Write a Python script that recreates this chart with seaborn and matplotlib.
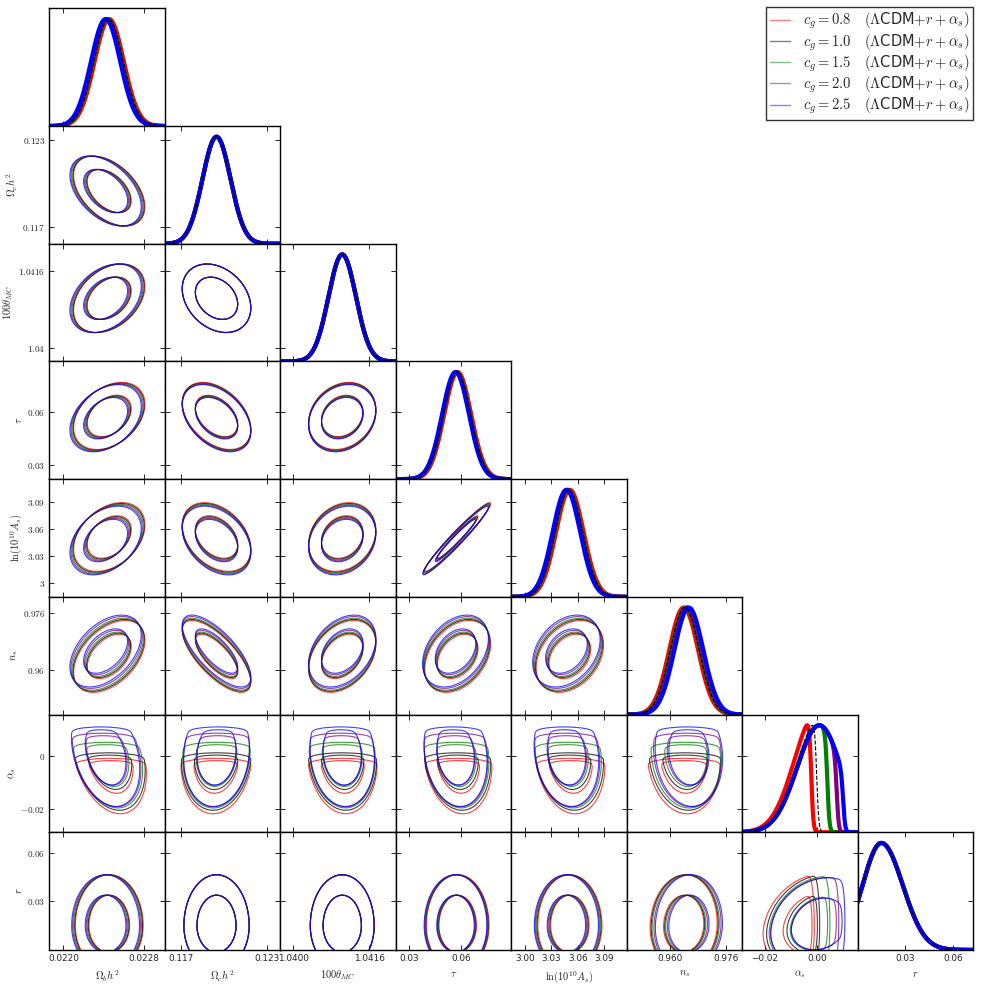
import numpy as np
import matplotlib
matplotlib.use("Agg")
import matplotlib.pyplot as plt
from matplotlib.lines import Line2D
import seaborn as sns

# parameter names / axis labels
params = ["omegabh2", "omegach2", "theta", "tau", "logA", "ns", "nrun", "r"]
labels = [r"$\Omega_b h^2$", r"$\Omega_c h^2$", r"$100\theta_{MC}$", r"$\tau$",
          r"$\ln(10^{10} A_s)$", r"$n_s$", r"$\alpha_s$", r"$r$"]

# axis ranges
lims = [(0.02186, 0.02301), (0.11588, 0.12396), (1.03972, 1.04216), (0.0220, 0.0890),
        (2.984, 3.1157), (0.94765, 0.98054), (-0.02863, 0.01565), (0.0, 0.0727)]

xticks = [[0.0220, 0.0228], [0.117, 0.123], [1.0400, 1.0416], [0.03, 0.06],
          [3.00, 3.03, 3.06, 3.09], [0.960, 0.976], [-0.02, 0.00], [0.03, 0.06]]
xticklabels = [["0.0220", "0.0228"], ["0.117", "0.123"], ["1.0400", "1.0416"], ["0.03", "0.06"],
               ["3.00", "3.03", "3.06", "3.09"], ["0.960", "0.976"], ["\u22120.02", "0.00"], ["0.03", "0.06"]]
yticks = [[], [0.117, 0.123], [1.04, 1.0416], [0.03, 0.06],
          [3.0, 3.03, 3.06, 3.09], [0.96, 0.976], [-0.02, 0.0], [0.03, 0.06]]
yticklabels = [[], ["0.117", "0.123"], ["1.04", "1.0416"], ["0.03", "0.06"],
               ["3", "3.03", "3.06", "3.09"], ["0.96", "0.976"], ["-0.02", "0"], ["0.03", "0.06"]]

# models
models = ["0.8", "1.0", "1.5", "2.0", "2.5"]
colors = ["#ff0000", "#000000", "#008000", "#800080", "#0000ff"]

# posterior means per model (rows = models)
means = [
    [0.022457, 0.1195, 1.04103, 0.0580, 3.051, 0.9639, 0.000, 0.015],
    [0.022450, 0.1195, 1.04103, 0.0576, 3.050, 0.9642, 0.001, 0.015],
    [0.022440, 0.1195, 1.04103, 0.0573, 3.049, 0.9645, 0.001, 0.015],
    [0.022430, 0.1195, 1.04103, 0.0570, 3.048, 0.9650, 0.001, 0.015],
    [0.022420, 0.1195, 1.04103, 0.0567, 3.047, 0.9654, 0.001, 0.015],
]
sigmas = [0.000145, 0.00098, 0.00029, 0.0078, 0.0157, 0.0041, 0.0085, 0.0118]
r_sigma_upper = 0.0135
# upper cut on the running per model, and its softness
nrun_cut = [-0.0021, 0.0000, 0.0041, 0.0077, 0.0102]
nrun_cut_width = 0.0004

corr = [
    [1.00, -0.45, 0.35, 0.35, 0.35, 0.45, -0.30, 0.00],
    [-0.45, 1.00, -0.28, -0.40, -0.35, -0.72, 0.10, 0.00],
    [0.35, -0.28, 1.00, 0.20, 0.20, 0.35, -0.10, 0.00],
    [0.35, -0.40, 0.20, 1.00, 0.97, 0.35, -0.15, 0.00],
    [0.35, -0.35, 0.20, 0.97, 1.00, 0.32, -0.15, 0.00],
    [0.45, -0.72, 0.35, 0.35, 0.32, 1.00, -0.10, 0.05],
    [-0.30, 0.10, -0.10, -0.15, -0.15, -0.10, 1.00, 0.18],
    [0.00, 0.00, 0.00, 0.00, 0.00, 0.05, 0.18, 1.00],
]

NRUN, R = 6, 7


def zscore(v, p, m):
    z = (v - means[m][p]) / sigmas[p]
    if p == R:
        z = np.where(v > means[m][p], (v - means[m][p]) / r_sigma_upper, z)
    return z


def weight(v, p, m):
    if p == NRUN:
        return 1.0 / (1.0 + np.exp((v - nrun_cut[m]) / nrun_cut_width))
    return 1.0


def grid_for(p, n=260):
    lo, hi = lims[p]
    span = hi - lo
    a, b = lo - 0.5 * span, hi + 0.5 * span
    if p == R:
        a = 0.0
    return np.linspace(a, b, n)


def density2d(m, py, px, X, Y):
    zx, zy = zscore(X, px, m), zscore(Y, py, m)
    rho = corr[py][px]
    d = np.exp(-(zx ** 2 - 2 * rho * zx * zy + zy ** 2) / (2 * (1 - rho ** 2)))
    return d * weight(X, px, m) * weight(Y, py, m)


def levels_for(d, probs=(0.95, 0.68)):
    flat = np.sort(d.ravel())[::-1]
    cum = np.cumsum(flat) / flat.sum()
    return sorted(flat[np.searchsorted(cum, q)] for q in probs)


sns.set_style("ticks")
plt.rcParams["font.family"] = ["DejaVu Sans"]
plt.rcParams["mathtext.fontset"] = "cm"

fig = plt.figure(figsize=(9.81, 9.84), dpi=100)
gs = fig.add_gridspec(8, 8, left=0.0503, right=0.9918, bottom=0.0346, top=0.9915,
                      hspace=0, wspace=0)

n = len(params)
for i in range(n):
    for j in range(i + 1):
        ax = fig.add_subplot(gs[i, j])
        if i == j:
            x = np.linspace(lims[i][0], lims[i][1], 400)
            order = [0, 2, 3, 4, 1]
            for m in order:
                d = np.exp(-zscore(x, i, m) ** 2 / 2) * weight(x, i, m)
                d = d / d.max()
                if m == 1:
                    sns.lineplot(x=x, y=d, ax=ax, color="k", lw=0.8, ls="--",
                                 sort=False, estimator=None)
                else:
                    sns.lineplot(x=x, y=d, ax=ax, color=colors[m], lw=3,
                                 sort=False, estimator=None)
            ax.set_ylim(0, 1.1)
            lo, hi = lims[i]
            ax.set_yticks([(t - lo) / (hi - lo) * 1.1 for t in yticks[i]])
        else:
            gx, gy = grid_for(j), grid_for(i)
            X, Y = np.meshgrid(gx, gy)
            for m in range(len(models)):
                d = density2d(m, i, j, X, Y)
                ax.contour(X, Y, d, levels=levels_for(d), colors=[colors[m]],
                           linewidths=0.8, alpha=0.75)
            ax.set_ylim(*lims[i])
            ax.set_yticks(yticks[i])
        ax.set_xlim(*lims[j])
        ax.set_xticks(xticks[j])
        ax.tick_params(direction="in", top=True, right=True, length=3.5, width=0.7,
                       labelsize=6.4, pad=3)
        for s in ax.spines.values():
            s.set_linewidth(1.0)
            s.set_color("black")
        ax.set_xlabel("")
        ax.set_ylabel("")
        if i == n - 1:
            ax.set_xticklabels(xticklabels[j])
            ax.set_xlabel(labels[j], fontsize=7.5, labelpad=4)
        else:
            ax.set_xticklabels([])
        if j == 0 and i > 0:
            ax.set_yticklabels([r"$%s$" % s for s in yticklabels[i]], fontsize=6.6)
            ax.set_ylabel(labels[i], fontsize=7.5, labelpad=2)
        else:
            ax.set_yticklabels([])

handles = [Line2D([0], [0], color=c, lw=1, alpha=0.5) for c in colors]
leg_labels = [r"$c_g=%s$   $(\Lambda$CDM$+r+\alpha_s)$" % mdl for mdl in models]
fig.legend(handles, leg_labels, loc="upper right", bbox_to_anchor=(0.9918, 0.9926),
           fontsize=10.5, frameon=True, fancybox=False, edgecolor="black",
           handlelength=1.4, handletextpad=0.85, labelspacing=0.06, borderpad=0.25,
           borderaxespad=0)
leg = fig.legends[0]
leg.get_frame().set_linewidth(1.0)

plt.savefig("out.png", dpi=100)
